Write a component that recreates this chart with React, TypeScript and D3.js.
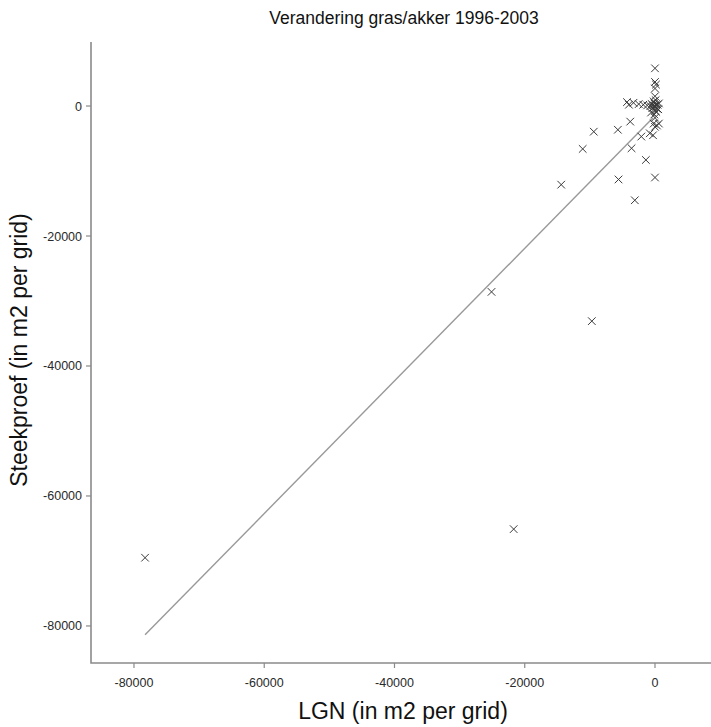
import React from "react";
import * as d3 from "d3";

// Change in grass/arable land 1996-2003 per grid cell (m2): LGN map vs. sample survey
const lgn: number[] = [
  -78300, -21700, -25100, -9700, -14400, -11100, -9400, -5700, -3600, -5600,
  -3100, -1400, 0, -3800, -2100, -800, -300, 0, 600, 300,
  -200, 0, 0, 150, 0, 0, -4300, -4000, -3300, -2500,
  -1800, -1200, -700, -300, -200, 0, 100, 200, -100, 300,
  -400, 0, -200, 100, 400, -500, 200, -100, 500, 0,
  -600, 600,
];
const steekproef: number[] = [
  -69500, -65100, -28600, -33100, -12100, -6600, -3950, -3650, -6500, -11300,
  -14500, -8300, -11000, -2400, -4700, -4200, -4500, -3200, -2700, -3000,
  -2700, 5800, 3700, 3300, 1500, 2700, 600, 200, 500, 300,
  200, 100, 0, 100, -200, 0, -100, 300, 400, -400,
  -300, -700, 700, 900, 200, 300, -900, -1300, -500, -1800,
  -1000, 400,
];

// Fitted line: steekproef = intercept + slope * lgn
const fitIntercept = -1500;
const fitSlope = 1.02;
const fitRange: [number, number] = [-78300, -300];

const xTicks = [-80000, -60000, -40000, -20000, 0];
const yTicks = [0, -20000, -40000, -60000, -80000];

const title = "Verandering gras/akker 1996-2003";
const xTitle = "LGN (in m2 per grid)";
const yTitle = "Steekproef (in m2 per grid)";

const W = 711;
const H = 727;
const left = 91;
const right = 711;
const top = 42;
const bottom = 663;

export default function App() {
  const x = d3.scaleLinear().domain([-86600, 8600]).range([left, right]);
  const y = d3.scaleLinear().domain([-85700, 9850]).range([bottom, top]);

  const pts = lgn.map((v, i) => ({ x: v, y: steekproef[i] }));
  const fitLine = d3
    .line<number>()
    .x((d) => x(d))
    .y((d) => y(fitIntercept + fitSlope * d))(fitRange);

  const axisColor = "#8a8a8a";
  const font = "'Liberation Sans', Arial, sans-serif";
  const m = 3.8;

  return (
    <svg
      width={W}
      height={H}
      style={{ position: "absolute", left: 0, top: 0, background: "#fff" }}
      fontFamily={font}
    >
      <rect width={W} height={H} fill="#fff" />
      <text x={404} y={24} textAnchor="middle" fontSize={17.5} fill="#111">
        {title}
      </text>

      {/* axes */}
      <path
        d={`M${left},${top}V${bottom}H${right}`}
        fill="none"
        stroke={axisColor}
        strokeWidth={1.6}
      />
      {yTicks.map((t) => (
        <g key={`y${t}`}>
          <line x1={left - 5} x2={left} y1={y(t)} y2={y(t)} stroke={axisColor} strokeWidth={1.2} />
          <text x={left - 9} y={y(t) + 4.5} textAnchor="end" fontSize={12.5} fill="#2a2a2a">
            {t}
          </text>
        </g>
      ))}
      {xTicks.map((t) => (
        <g key={`x${t}`}>
          <line x1={x(t)} x2={x(t)} y1={bottom} y2={bottom + 5} stroke={axisColor} strokeWidth={1.2} />
          <text x={x(t)} y={bottom + 24} textAnchor="middle" fontSize={12.5} fill="#2a2a2a">
            {t}
          </text>
        </g>
      ))}

      <text x={403} y={719} textAnchor="middle" fontSize={23} fill="#111">
        {xTitle}
      </text>
      <text
        transform={`translate(27,${350}) rotate(-90)`}
        textAnchor="middle"
        fontSize={23}
        fill="#111"
      >
        {yTitle}
      </text>

      {/* fitted line */}
      <path d={fitLine ?? ""} fill="none" stroke="#999" strokeWidth={1.4} />

      {/* observations */}
      {pts.map((p, i) => (
        <path
          key={i}
          d={`M${x(p.x) - m},${y(p.y) - m}L${x(p.x) + m},${y(p.y) + m}M${x(p.x) - m},${y(p.y) + m}L${x(p.x) + m},${y(p.y) - m}`}
          stroke="#3a3a3a"
          strokeWidth={1}
          fill="none"
        />
      ))}
    </svg>
  );
}
